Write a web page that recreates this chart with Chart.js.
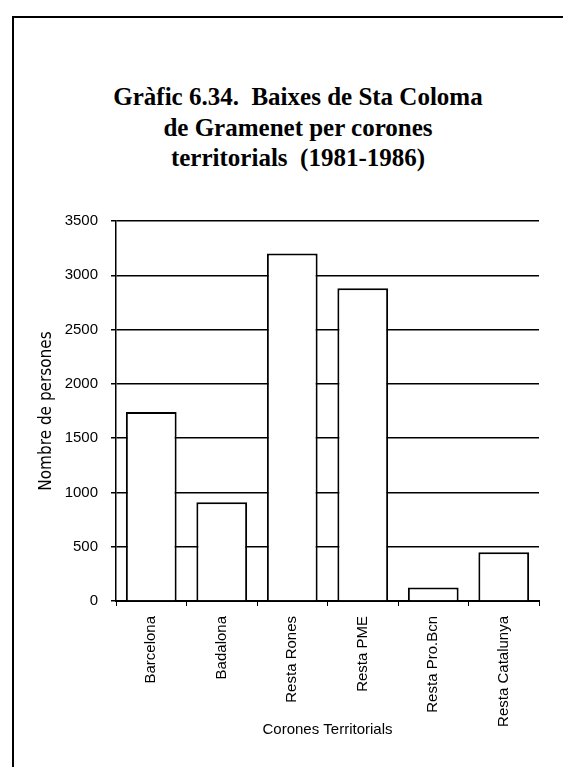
<!DOCTYPE html>
<html>
<head>
<meta charset="utf-8">
<script src="https://cdn.jsdelivr.net/npm/chart.js@4"></script>
<style>
  html, body { margin: 0; padding: 0; background: #fff; }
  #page { position: relative; width: 563px; height: 767px; overflow: hidden; }
  #frame { position: absolute; left: 12px; top: 16px; width: 560px; height: 760px;
           border-left: 2px solid #000; border-top: 2px solid #000; }
  #title { position: absolute; left: 0; top: 82px; width: 596px; text-align: center;
           font: bold 25px "Liberation Serif", "Times New Roman", serif; line-height: 30.5px;
           white-space: pre; color: #000; }
  canvas { position: absolute; left: 0; top: 0; }
</style>
</head>
<body>
<div id="page">
  <div id="frame"></div>
  <div id="title">Gràfic 6.34.  Baixes de Sta Coloma
de Gramenet per corones
territorials  (1981-1986)</div>
  <canvas id="chart1" width="563" height="767"></canvas>
</div>
<script>
// corones territorials i baixes
var categories = ['Barcelona', 'Badalona', 'Resta Rones', 'Resta PME', 'Resta Pro.Bcn', 'Resta Catalunya'];
var baixes = [1740, 910, 3200, 2880, 125, 450];
var yTicks = [0, 500, 1000, 1500, 2000, 2500, 3000, 3500];

var chart1 = new Chart(document.getElementById('chart1'), {
  type: 'bar',
  data: {
    labels: categories,
    datasets: [{
      data: baixes,
      backgroundColor: '#fff',
      borderColor: '#000',
      borderWidth: 2,
      barPercentage: 0.72,
      categoryPercentage: 1
    }]
  },
  options: {
    responsive: false,
    animation: false,
    devicePixelRatio: 1,
    layout: { padding: { left: 0, right: 24, top: 221, bottom: 0 } },
    plugins: {
      legend: { display: false },
      tooltip: { enabled: false }
    },
    scales: {
      x: {
        afterFit: function (scale) { scale.height = 166; },
        grid: { drawOnChartArea: false, color: '#000', tickLength: 5, lineWidth: 1 },
        border: { color: '#000', width: 2 },
        ticks: {
          color: '#000', minRotation: 90, maxRotation: 90, autoSkip: false, padding: 10,
          font: { family: '"Liberation Sans Narrow", "Liberation Sans", sans-serif', size: 15 }
        },
        title: {
          display: true, text: 'Corones Territorials', color: '#000',
          padding: { top: 4, bottom: 28 },
          font: { family: '"Liberation Sans Narrow", "Liberation Sans", sans-serif', size: 15 }
        }
      },
      y: {
        min: yTicks[0],
        max: yTicks[yTicks.length - 1],
        afterFit: function (scale) { scale.width = 116; },
        afterBuildTicks: function (scale) { scale.ticks = yTicks.map(function (v) { return { value: v }; }); },
        grid: { color: '#000', lineWidth: 1.5, tickLength: 5 },
        border: { color: '#000', width: 1.5 },
        ticks: {
          color: '#000', padding: 13,
          callback: function (v) { return String(v); },
          font: { family: '"Liberation Sans", sans-serif', size: 15 }
        },
        title: {
          display: true, text: 'Nombre de persones', color: '#000',
          padding: { top: 36, bottom: 0 },
          font: { family: '"DejaVu Sans Condensed", sans-serif', size: 17 }
        }
      }
    }
  }
});
</script>
</body>
</html>
